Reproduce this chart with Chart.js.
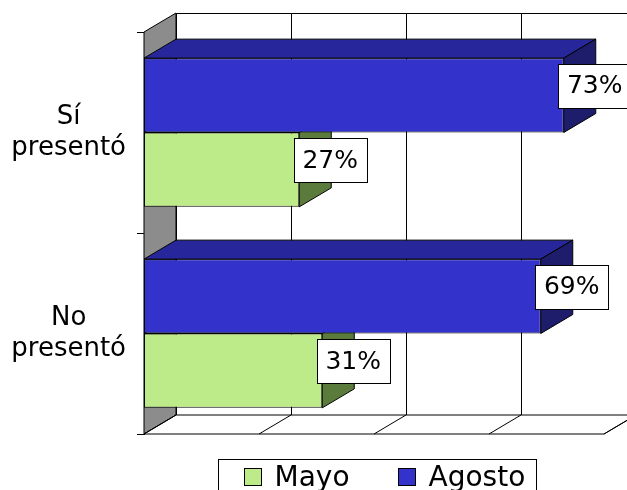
<!DOCTYPE html>
<html><head><meta charset="utf-8">
<script src="https://cdn.jsdelivr.net/npm/chart.js@4"></script>
<style>html,body{margin:0;padding:0;background:#fff}#wrap{width:627px;height:490px;position:relative}</style>
</head><body><div id="wrap"><canvas id="c" width="627" height="490"></canvas></div>
<script>
const categories = ['Sí presentó', 'No presentó'];
const agosto = [73, 69];
const mayo = [27, 31];
const xTicks = [0, 20, 40, 60, 80];
const legendOrder = ['Mayo', 'Agosto'];

const FONT = '"DejaVu Sans", "Liberation Sans", Arial, sans-serif';
const DX = 32, DY = -19;
const colors = {
  Agosto: { front: '#3333CC', top: '#27279B', side: '#1D1D6C' },
  Mayo:   { front: '#BDEB89', top: '#8EB066', side: '#5B7B3C' }
};

function poly(ctx, pts, fill) {
  ctx.beginPath();
  ctx.moveTo(pts[0][0], pts[0][1]);
  for (let i = 1; i < pts.length; i++) ctx.lineTo(pts[i][0], pts[i][1]);
  ctx.closePath();
  if (fill) { ctx.fillStyle = fill; ctx.fill(); }
  ctx.stroke();
}
function line(ctx, x1, y1, x2, y2) {
  ctx.beginPath(); ctx.moveTo(x1, y1); ctx.lineTo(x2, y2); ctx.stroke();
}

const plugin3d = {
  id: 'bar3d',
  beforeDatasetsDraw(chart) {
    const { ctx, chartArea: a, scales: { x } } = chart;
    const bt = a.top + DY, bb = a.bottom + DY;
    const bl = a.left + DX, br = a.right + DX;
    ctx.save();
    ctx.lineWidth = 1; ctx.strokeStyle = '#000';
    ctx.fillStyle = '#fff';
    ctx.fillRect(bl, bt, br - bl, bb - bt);
    xTicks.forEach(v => { const px = Math.round(x.getPixelForValue(v) + DX) + 0.5; line(ctx, px, bt, px, bb); });
    line(ctx, bl, bt + 0.5, br, bt + 0.5);
    poly(ctx, [[a.left, a.top], [bl, bt], [bl, bb], [a.left, a.bottom]], '#8C8C8C');
    poly(ctx, [[a.left, a.bottom], [bl, bb], [br, bb], [a.right, a.bottom]], '#fff');
    xTicks.forEach(v => { const px = x.getPixelForValue(v); line(ctx, px, a.bottom, px + DX, bb); });
    ctx.restore();
  },
  beforeDatasetDraw(chart, args) {
    const { ctx } = chart;
    const ds = chart.data.datasets[args.index];
    const c = colors[ds.label];
    ctx.save();
    ctx.lineWidth = 1; ctx.strokeStyle = '#000'; ctx.lineJoin = 'round';
    args.meta.data.forEach(el => {
      const p = el.getProps(['x', 'y', 'base', 'height'], true);
      const top = p.y - p.height / 2, bot = p.y + p.height / 2;
      const x0 = p.base, x1 = p.x;
      poly(ctx, [[x0, top], [x0 + DX, top + DY], [x1 + DX, top + DY], [x1, top]], c.top);
      poly(ctx, [[x1, top], [x1 + DX, top + DY], [x1 + DX, bot + DY], [x1, bot]], c.side);
    });
    ctx.restore();
  },
  afterDatasetsDraw(chart) {
    const { ctx } = chart;
    ctx.save();
    ctx.font = '25px ' + FONT;
    ctx.textAlign = 'center'; ctx.textBaseline = 'middle';
    chart.data.datasets.forEach((ds, di) => {
      const meta = chart.getDatasetMeta(di);
      meta.data.forEach((el, i) => {
        const p = el.getProps(['x', 'y', 'height'], true);
        const txt = ds.data[i] + '%';
        const w = Math.round(ctx.measureText(txt).width + 17), h = 44;
        const cx = p.x + 31, cy = p.y - 9.5;
        const lx = Math.round(cx - w / 2) + 0.5, ly = Math.round(cy - h / 2) + 0.5;
        ctx.fillStyle = '#fff'; ctx.fillRect(lx, ly, w, h);
        ctx.strokeStyle = '#000'; ctx.lineWidth = 1; ctx.strokeRect(lx, ly, w, h);
        ctx.fillStyle = '#000'; ctx.fillText(txt, cx, cy + 1);
      });
    });
    ctx.restore();
  },
  afterDraw(chart) {
    const { ctx, chartArea: a } = chart;
    ctx.save();
    ctx.font = '28px ' + FONT;
    ctx.textBaseline = 'middle';
    const box = 17, gapText = 14, gapItem = 48, padL = 25, padR = 11;
    const items = legendOrder.map(name => ({ name, w: ctx.measureText(name).width }));
    let total = padL + padR;
    items.forEach((it, i) => { total += box + gapText + it.w + (i ? gapItem : 0); });
    total = Math.round(total);
    const left = Math.round((a.left + a.right) / 2 + 3 - total / 2) + 0.5;
    const top = Math.round(a.bottom + 25) + 0.5;
    ctx.strokeStyle = '#000'; ctx.lineWidth = 1;
    ctx.fillStyle = '#fff';
    ctx.fillRect(left, top, total, 60);
    ctx.strokeRect(left, top, total, 60);
    let xx = left + padL;
    items.forEach((it, i) => {
      if (i) xx += gapItem;
      ctx.fillStyle = colors[it.name].front;
      ctx.fillRect(Math.round(xx) + 0.5, top + 9, box, box);
      ctx.strokeRect(Math.round(xx) + 0.5, top + 9, box, box);
      xx += box + gapText;
      ctx.fillStyle = '#000';
      ctx.fillText(it.name, xx, top + 19);
      xx += it.w;
    });
    ctx.restore();
  }
};

new Chart(document.getElementById('c'), {
  type: 'bar',
  data: {
    labels: categories.map(s => s.split(' ')),
    datasets: [
      { label: 'Agosto', data: agosto, backgroundColor: colors.Agosto.front, borderColor: '#000', borderWidth: 1, borderSkipped: false },
      { label: 'Mayo', data: mayo, backgroundColor: colors.Mayo.front, borderColor: '#000', borderWidth: 1, borderSkipped: false }
    ]
  },
  options: {
    indexAxis: 'y',
    responsive: false,
    animation: false,
    events: [],
    layout: { padding: { top: 32, right: 23, bottom: 56, left: 0 } },
    datasets: { bar: { categoryPercentage: 0.74, barPercentage: 1 } },
    scales: {
      x: { display: false, min: 0, max: 80, ticks: { stepSize: 20 } },
      y: {
        afterFit(scale) { scale.width = 144; scale.paddingTop = 0; scale.paddingBottom = 0; },
        border: { display: true, color: '#000', width: 1 },
        grid: { display: true, drawOnChartArea: false, drawTicks: true, tickLength: 7, color: '#000', offset: true },
        ticks: { color: '#000', crossAlign: 'center', padding: 11, font: { family: FONT, size: 26, lineHeight: 1.2 } }
      }
    },
    plugins: { legend: { display: false }, tooltip: { enabled: false } }
  },
  plugins: [plugin3d]
});
</script>
</body></html>
